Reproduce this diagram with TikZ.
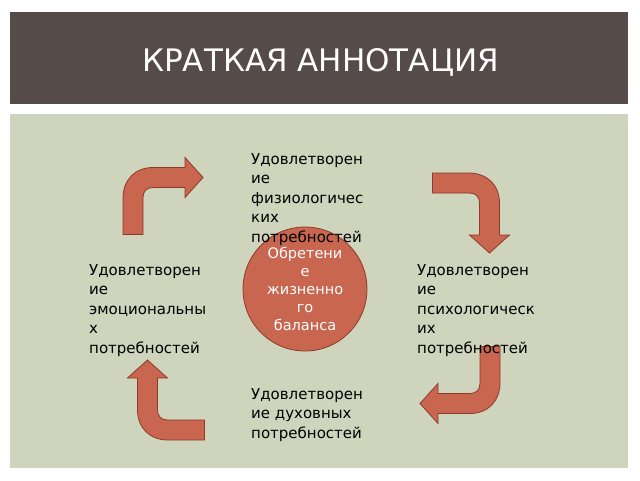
\documentclass[tikz,border=0pt]{standalone}
\usepackage{fontspec}
\setmainfont{DejaVu Sans}
\begin{document}
\begin{tikzpicture}[x=1pt,y=-1pt,
  lbl/.style={anchor=north west,align=left,font=\fontsize{15}{19.5}\selectfont,inner sep=0pt},
  bent/.pic={\draw[draw=arrowedge,fill=arrowfill,line width=0.8pt]
    (-40,38.5) -- (-40,2) .. controls (-40,-16) and (-28,-28.5) .. (-10,-28.5) -- (22,-28.5) -- (22,-38.5) -- (40,-18.5) -- (22,1.5) -- (22,-8.5) -- (-10,-8.5) .. controls (-16,-8.5) and (-20,-5) .. (-20,1.5) -- (-20,38.5) -- cycle;}]
\definecolor{arrowfill}{HTML}{C8664F}
\definecolor{arrowedge}{HTML}{8E3A2A}
\definecolor{titlebg}{HTML}{554B48}
\definecolor{panel}{HTML}{CFD4BD}
\useasboundingbox (0,0) rectangle (640,480);
\fill[white] (0,0) rectangle (640,480);
\fill[titlebg] (10,12) rectangle (628,104);
\fill[panel] (10,114) rectangle (628,468);
\node[anchor=west,text=white,font=\fontsize{31}{34}\selectfont,inner sep=0pt] (title) at (142,62) {КРАТКАЯ АННОТАЦИЯ};
\pic at (163,196) {bent};
\pic[rotate=270] at (471,213) {bent};
\pic[rotate=180] at (460,385) {bent};
\pic[rotate=90] at (166,400) {bent};
\node[circle,draw=arrowedge,fill=arrowfill,line width=0.8pt,minimum size=124pt,inner sep=0pt,text=white,align=center,font=\fontsize{14.5}{18}\selectfont] (c) at (305,289) {Обретени\\е\\жизненно\\го\\баланса};
\node[lbl] (t) at (251,153) {Удовлетворен\\ие\\физиологичес\\ких\\потребностей};
\node[lbl] (l) at (89,264) {Удовлетворен\\ие\\эмоциональны\\х\\потребностей};
\node[lbl] (r) at (417,264) {Удовлетворен\\ие\\психологическ\\их\\потребностей};
\node[lbl] (b) at (251,388) {Удовлетворен\\ие духовных\\потребностей};
\end{tikzpicture}
\end{document}
